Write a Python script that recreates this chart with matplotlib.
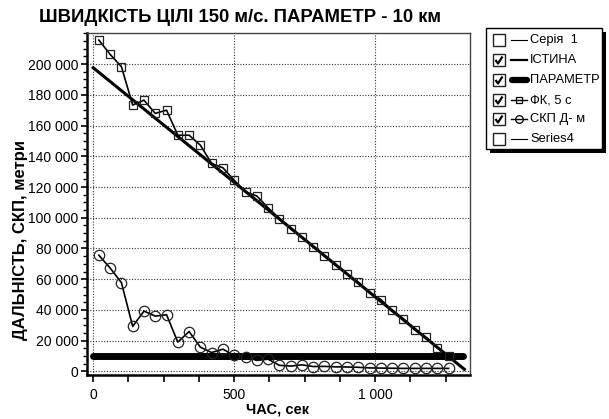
import matplotlib
matplotlib.use("Agg")
import matplotlib.pyplot as plt
from matplotlib.ticker import MultipleLocator, FuncFormatter, FixedLocator
from matplotlib.patches import Rectangle

plt.rcParams['font.family'] = ['Liberation Sans', 'DejaVu Sans']

# ---- data ----
title = "ШВИДКІСТЬ ЦІЛІ 150 м/с. ПАРАМЕТР - 10 км"
xlabel = "ЧАС, сек"
ylabel = "ДАЛЬНІСТЬ, СКП, метри"

truth_t = [0, 1316]
truth_r = [197600, 1400]

param_t = [0, 1310]
param_r = [10000, 10000]

meas_t = [20 + 40 * k for k in range(32)]
fk_r = [215600, 206300, 198300, 173300, 176500, 167900, 170000, 153700,
        153700, 147200, 135300, 132500, 124400, 116800, 114200, 106500,
        99500, 93000, 87500, 81200, 75000, 69000, 63300, 58200,
        51000, 46800, 39700, 34300, 27100, 22300, 15400, 9800]
skp_r = [75600, 67300, 57800, 29300, 39300, 36000, 36900, 19100,
         26000, 15800, 12300, 14500, 10400, 9500, 7200, 8000,
         4000, 3500, 4300, 3200, 3300, 3000, 2900, 2700,
         2300, 2200, 2100, 2000, 2000, 2000, 2000, 2000]

x_ticks = [0, 500, 1000]
y_ticks = list(range(0, 200001, 20000))

legend_labels = ["Серія  1", "ІСТИНА", "ПАРАМЕТР", "ФК, 5 с", "СКП Д- м", "Series4"]
legend_checked = [False, True, True, True, True, False]

W, H = 609, 419
fig = plt.figure(figsize=(W / 100, H / 100), dpi=100)
fig.patch.set_facecolor("white")

L, R, T, B = 87, 470, 33, 375
ax = fig.add_axes([L / W, 1 - B / H, (R - L) / W, (B - T) / H])

ax.plot(param_t, param_r, color="black", lw=5, solid_capstyle="round", zorder=3)
ax.plot(truth_t, truth_r, color="black", lw=2.2, zorder=4)
ax.plot(meas_t, fk_r, color="black", lw=1.2, marker="s", ms=6, mfc="none",
        mec="#222222", mew=0.9, zorder=5)
ax.plot(meas_t, skp_r, color="black", lw=1.2, marker="o", ms=7.5, mfc="none",
        mec="#222222", mew=0.9, zorder=5)

ax.set_xlim(-22, 1336)
ax.set_ylim(-2300, 220200)

fmt = FuncFormatter(lambda v, p: f"{int(round(v)):,}".replace(",", " "))
ax.xaxis.set_major_locator(FixedLocator(x_ticks))
ax.xaxis.set_minor_locator(MultipleLocator(125))
ax.yaxis.set_major_locator(FixedLocator(y_ticks))
ax.yaxis.set_minor_locator(MultipleLocator(5000))
ax.xaxis.set_major_formatter(fmt)
ax.yaxis.set_major_formatter(fmt)
ax.tick_params(axis="x", which="both", direction="out", length=5, width=1.2,
               labelsize=10, pad=4)
ax.tick_params(axis="y", which="major", direction="out", length=4, width=1.2,
               labelsize=10, pad=2)
ax.tick_params(axis="y", which="minor", direction="out", length=3, width=1.0)
ax.grid(True, which="major", linestyle=(0, (1, 1.5)), linewidth=0.8, color="#333333")
ax.set_axisbelow(True)

for s in ["left", "bottom"]:
    ax.spines[s].set_linewidth(1.8)
    ax.spines[s].set_color("black")
for s in ["top", "right"]:
    ax.spines[s].set_linewidth(1.0)
    ax.spines[s].set_color("#444444")

# overlay in pixel coordinates for texts and legend
ov = fig.add_axes([0, 0, 1, 1], zorder=10)
ov.set_xlim(0, W)
ov.set_ylim(H, 0)
ov.axis("off")

ov.text(240, 17, title, ha="center", va="center", fontsize=13.3, fontweight="bold")
ov.text(278, 409, xlabel, ha="center", va="center", fontsize=10.5, fontweight="bold")
ov.text(21, 240, ylabel, ha="center", va="center", fontsize=12, fontweight="bold",
        rotation=90)

# legend box with shadow
bx0, by0, bx1, by1 = 486, 28, 602, 149
ov.add_patch(Rectangle((bx0 + 4, by0 + 4), bx1 - bx0, by1 - by0, facecolor="black",
                       edgecolor="none", zorder=1))
ov.add_patch(Rectangle((bx0, by0), bx1 - bx0, by1 - by0, facecolor="white",
                       edgecolor="black", lw=1.0, zorder=2))
rows = [40, 60, 80, 100, 119, 139]
for i, (lab, chk) in enumerate(zip(legend_labels, legend_checked)):
    yc = rows[i]
    ov.add_patch(Rectangle((493, yc - 6), 12, 12, facecolor="white",
                           edgecolor="#222222", lw=1.0, zorder=3))
    if chk:
        ov.plot([495.5, 498, 502.5], [yc, yc + 3.5, yc - 3.5], color="black",
                lw=1.6, zorder=4, solid_capstyle="butt")
    if i in (0, 5):
        ov.plot([511, 527], [yc, yc], color="black", lw=0.8, zorder=4)
    elif i == 1:
        ov.plot([511, 527], [yc, yc], color="black", lw=1.6, zorder=4)
    elif i == 2:
        ov.plot([512, 527], [yc, yc], color="black", lw=4.5, zorder=4,
                solid_capstyle="round")
    elif i == 3:
        ov.plot([511, 527], [yc, yc], color="black", lw=1.0, zorder=4)
        ov.plot([519], [yc], marker="s", ms=4.5, mfc="none", mec="black", mew=0.9, zorder=5)
    elif i == 4:
        ov.plot([511, 527], [yc, yc], color="black", lw=1.0, zorder=4)
        ov.plot([519], [yc], marker="o", ms=5.5, mfc="none", mec="black", mew=0.9, zorder=5)
    ov.text(530, yc, lab, ha="left", va="center", fontsize=9.3, zorder=5)

fig.savefig("out.png", dpi=100, facecolor="white")
